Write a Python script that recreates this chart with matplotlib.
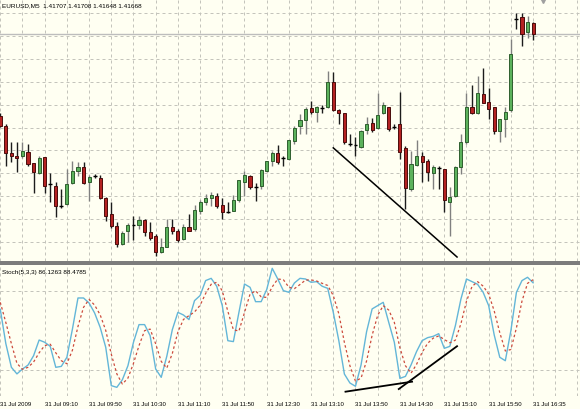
#!/usr/bin/env python3
"""EURUSD M5 candles with Stoch(5,3,3) subwindow, MT4 style."""
import matplotlib
matplotlib.use("Agg")
import matplotlib.pyplot as plt
import numpy as np
from matplotlib.patches import Rectangle

# --- data -----------------------------------------------------------------
OPEN = [1.41381, 1.41346, 1.41251, 1.41241, 1.41241, 1.41255, 1.41216, 1.41181, 1.41237, 1.41143,
        1.41136, 1.41066, 1.41073, 1.41146, 1.41188, 1.41202, 1.41150, 1.41171, 1.41164, 1.41094,
        1.41038, 1.40996, 1.40933, 1.40978, 1.40999, 1.40999, 1.41017, 1.40975, 1.40961, 1.40905,
        1.40922, 1.40992, 1.40978, 1.40950, 1.40992, 1.40985, 1.41048, 1.41080, 1.41094, 1.41101,
        1.41069, 1.41045, 1.41048, 1.41087, 1.41150, 1.41171, 1.41132, 1.41136, 1.41188, 1.41223,
        1.41251, 1.41234, 1.41230, 1.41293, 1.41346, 1.41367, 1.41409, 1.41395, 1.41409, 1.41412,
        1.41500, 1.41402, 1.41391, 1.41283, 1.41279, 1.41272, 1.41332, 1.41356, 1.41339, 1.41391,
        1.41412, 1.41342, 1.41353, 1.41269, 1.41125, 1.41209, 1.41241, 1.41223, 1.41181, 1.41199,
        1.41195, 1.41080, 1.41101, 1.41202, 1.41290, 1.41412, 1.41391, 1.41458, 1.41430, 1.41412,
        1.41328, 1.41370, 1.41402, 1.41720, 1.41727, 1.41675, 1.41707]
HIGH = [1.41391, 1.41353, 1.41290, 1.41290, 1.41290, 1.41283, 1.41216, 1.41241, 1.41237, 1.41181,
        1.41150, 1.41125, 1.41195, 1.41223, 1.41220, 1.41220, 1.41174, 1.41178, 1.41174, 1.41097,
        1.41080, 1.41010, 1.40978, 1.41006, 1.41031, 1.41031, 1.41020, 1.41010, 1.40968, 1.40954,
        1.41020, 1.41020, 1.40985, 1.41003, 1.41038, 1.41069, 1.41087, 1.41108, 1.41115, 1.41111,
        1.41094, 1.41080, 1.41104, 1.41157, 1.41188, 1.41174, 1.41146, 1.41195, 1.41223, 1.41258,
        1.41279, 1.41241, 1.41297, 1.41346, 1.41388, 1.41412, 1.41433, 1.41416, 1.41419, 1.41538,
        1.41535, 1.41405, 1.41391, 1.41318, 1.41307, 1.41332, 1.41377, 1.41374, 1.41461, 1.41430,
        1.41412, 1.41353, 1.41465, 1.41276, 1.41258, 1.41297, 1.41255, 1.41230, 1.41209, 1.41206,
        1.41195, 1.41132, 1.41206, 1.41318, 1.41461, 1.41489, 1.41521, 1.41549, 1.41479, 1.41412,
        1.41370, 1.41412, 1.41650, 1.41741, 1.41741, 1.41731, 1.41708]
LOW = [1.41342, 1.41206, 1.41220, 1.41185, 1.41234, 1.41206, 1.41111, 1.41178, 1.41111, 1.41080,
       1.41027, 1.41059, 1.41069, 1.41143, 1.41171, 1.41143, 1.41083, 1.41164, 1.41090, 1.41013,
       1.40989, 1.40922, 1.40929, 1.40940, 1.40947, 1.40985, 1.40961, 1.40947, 1.40891, 1.40901,
       1.40922, 1.40968, 1.40940, 1.40947, 1.40978, 1.40978, 1.41038, 1.41069, 1.41066, 1.41059,
       1.41020, 1.41041, 1.41048, 1.41080, 1.41101, 1.41125, 1.41083, 1.41125, 1.41185, 1.41206,
       1.41213, 1.41206, 1.41227, 1.41283, 1.41318, 1.41318, 1.41388, 1.41360, 1.41391, 1.41409,
       1.41398, 1.41353, 1.41283, 1.41276, 1.41241, 1.41269, 1.41318, 1.41325, 1.41335, 1.41388,
       1.41328, 1.41335, 1.41230, 1.41055, 1.41118, 1.41206, 1.41150, 1.41153, 1.41125, 1.41125,
       1.41045, 1.40961, 1.41097, 1.41178, 1.41283, 1.41388, 1.41388, 1.41426, 1.41370, 1.41318,
       1.41290, 1.41307, 1.41395, 1.41685, 1.41626, 1.41654, 1.41648]
CLOSE = [1.41346, 1.41251, 1.41241, 1.41234, 1.41258, 1.41213, 1.41185, 1.41234, 1.41136, 1.41143,
         1.41066, 1.41066, 1.41143, 1.41188, 1.41202, 1.41146, 1.41167, 1.41171, 1.41094, 1.41031,
         1.40996, 1.40933, 1.40971, 1.40999, 1.40999, 1.41017, 1.40975, 1.40954, 1.40905, 1.40922,
         1.40992, 1.40978, 1.40947, 1.40992, 1.40978, 1.41052, 1.41080, 1.41094, 1.41104, 1.41066,
         1.41045, 1.41045, 1.41087, 1.41157, 1.41174, 1.41132, 1.41132, 1.41192, 1.41223, 1.41251,
         1.41220, 1.41234, 1.41297, 1.41339, 1.41367, 1.41405, 1.41395, 1.41412, 1.41409, 1.41500,
         1.41402, 1.41391, 1.41290, 1.41283, 1.41279, 1.41328, 1.41353, 1.41332, 1.41384, 1.41419,
         1.41335, 1.41342, 1.41255, 1.41129, 1.41213, 1.41241, 1.41220, 1.41185, 1.41202, 1.41199,
         1.41087, 1.41097, 1.41202, 1.41290, 1.41412, 1.41391, 1.41461, 1.41426, 1.41405, 1.41328,
         1.41370, 1.41395, 1.41598, 1.41720, 1.41668, 1.41710, 1.41668]

# Stoch(5,3,3): main (%K) and signal (%D)
STOCH_K = [66, 40, 22, 17, 20.7, 23.7, 30.8, 42.7, 41, 37.9,
           22, 22.7, 29.6, 51, 74.6, 74.6, 70.8, 63.2, 52.3, 37.2,
           8.1, 6.8, 12.6, 23.2, 41, 54.4, 54.4, 46, 20.7, 14.4,
           30.3, 50.6, 63.7, 61.7, 58.2, 72.6, 76.4, 87.8, 89.5, 83.5,
           68.8, 42.2, 41.5, 63.7, 85.2, 82.7, 71.8, 71.8, 80.9, 97.1,
           89, 80.2, 78.9, 86, 89.5, 89, 86.5, 87, 83.5, 81.9,
           63.7, 42.2, 16.9, 10.1, 7.6, 23.7, 49, 66.3, 68.8, 71.3,
           56, 41, 13.6, 15.1, 23.7, 33.9, 42.2, 44.5, 45.5, 47.5,
           36.4, 37.9, 53.6, 73.8, 89, 87, 85, 78.9, 68.8, 46.5,
           29.6, 27, 49.8, 78.9, 87.8, 90.3, 86.1263]
STOCH_D = [71.3, 56, 40, 25, 20.5, 22, 26, 33, 38.5, 39.5,
           33, 27, 24.7, 35, 53, 67.5, 73.5, 69.2, 61.8, 50,
           32, 17, 9.3, 13.8, 25, 38.5, 49.8, 51, 39.8, 26.5,
           21.4, 32.5, 48.7, 58.3, 61.2, 64, 69, 78, 85, 86.5,
           80, 64.5, 50.5, 49.5, 63.5, 77.5, 80, 75.5, 75, 83,
           89, 88.5, 82.7, 81.7, 84.8, 88.2, 88.3, 87.5, 85.7, 84.1,
           76.4, 62.6, 40.9, 23.1, 11.5, 13.8, 26.8, 46.3, 61.4, 68.8,
           65.4, 56.1, 36.9, 23.2, 17.5, 24.2, 33.3, 40.2, 44.1, 45.8,
           43.1, 40.6, 42.6, 55.1, 72.1, 83.3, 87, 83.6, 77.6, 64.7,
           48.3, 34.4, 35.5, 51.9, 72.2, 85.7, 88.4785]

TIME_LABELS = ["31 Jul 2009", "31 Jul 09:10", "31 Jul 09:50", "31 Jul 10:30",
               "31 Jul 11:10", "31 Jul 11:50", "31 Jul 12:30", "31 Jul 13:10",
               "31 Jul 13:50", "31 Jul 14:30", "31 Jul 15:10", "31 Jul 15:50",
               "31 Jul 16:35"]
LABEL_BARS = [0, 8, 16, 24, 32, 40, 48, 56, 64, 72, 80, 88, 96]
PRICE_GRID = [1.4174, 1.4166, 1.4158, 1.4150, 1.4142, 1.4134, 1.4126,
              1.4118, 1.4110, 1.4102, 1.4094]
STOCH_LEVELS = [20, 80]
BID = 1.41668

# hand-drawn trendlines (bar index, value)
PRICE_LINE = ([60.0, 82.3], [1.41269, 1.40887])
STOCH_LINES = [([62.2, 74.2], [3.5, 11.1]), ([71.8, 82.3], [5.5, 38.0])]

HEADER = "EURUSD,M5  1.41707 1.41708 1.41648 1.41668"
STOCH_HEADER = "Stoch(5,3,3) 86.1263 88.4785"

# --- style ---------------------------------------------------------------
BG = "#fffff2"
GRID = "#c4c4bc"
BULL, BULL_EDGE = "#5cb25c", "#2f5f2f"
BEAR, BEAR_EDGE = "#b42222", "#4a0c0c"
BULL_WICK, BEAR_WICK = "#808080", "#1c1c1c"
FONT = "Liberation Sans"

W, H = 580, 410
XMAX = 580 / 5.55  # bars visible across the window


def fy(y):
    return 1 - y / H


fig = plt.figure(figsize=(W / 100, H / 100), dpi=100, facecolor=BG)

# main price window
ax = fig.add_axes([0, fy(262), 1, 262 / H], facecolor=BG)
ax.set_xlim(-0.05, XMAX - 0.05)
ax.set_ylim(1.40873, 1.41790)
ax.set_xticks(np.arange(0, 105, 4))
ax.set_yticks(PRICE_GRID)
ax.grid(True, color=GRID, ls=(0, (3, 3)), lw=0.72)
ax.tick_params(length=0, labelbottom=False, labelleft=False)
for s in ax.spines.values():
    s.set_visible(False)
ax.set_axisbelow(True)

ax.axhline(BID, color="#bdbdbd", lw=1.0, zorder=1)

x = np.arange(len(OPEN))
o, h, l, c = map(np.array, (OPEN, HIGH, LOW, CLOSE))
doji = np.abs(c - o) < 0.00002
up = (c > o) & ~doji
dn = (c < o) & ~doji

ax.vlines(x[up], l[up], h[up], color=BULL_WICK, lw=1.0, zorder=2)
ax.vlines(x[dn], l[dn], h[dn], color=BEAR_WICK, lw=1.0, zorder=2)
ax.vlines(x[doji], l[doji], h[doji], color=BEAR_WICK, lw=1.0, zorder=2)
ax.bar(x[up], c[up] - o[up], bottom=o[up], width=0.56, color=BULL,
       edgecolor=BULL_EDGE, lw=0.7, zorder=3)
ax.bar(x[dn], c[dn] - o[dn], bottom=o[dn], width=0.56, color=BEAR,
       edgecolor=BEAR_EDGE, lw=0.7, zorder=3)
ax.hlines(o[doji], x[doji] - 0.35, x[doji] + 0.35, color="black", lw=1.0, zorder=3)

ax.plot(*PRICE_LINE, color="black", lw=1.1, zorder=4)
# chart shift marker
ax.plot([97.8], [1.41785], marker="v", ms=4, color="#a0a0a0", clip_on=False, zorder=5)

fig.text(2 / W, fy(6), HEADER, fontsize=4.6, family=FONT, va="center", ha="left")

# separator between windows
fig.add_artist(Rectangle((0, fy(265.5)), 1, 3.5 / H, transform=fig.transFigure,
                         color="#7c7c7c", lw=0))

# stochastic window
ax2 = fig.add_axes([0, fy(397.3), 1, (397.3 - 265.5) / H], facecolor=BG)
ax2.set_xlim(-0.05, XMAX - 0.05)
ax2.set_ylim(0, 100)
ax2.set_yticks(STOCH_LEVELS)
ax2.set_xticks(LABEL_BARS, TIME_LABELS)
ax2.set_xticks(np.arange(0, 105, 4), minor=True)
ax2.grid(True, which="both", color=GRID, ls=(0, (3, 3)), lw=0.72)
ax2.tick_params(which="both", length=0, labelleft=False, pad=3.5)
ax2.tick_params(axis="x", labelsize=4.3)
for t in ax2.get_xticklabels():
    t.set_ha("left")
    t.set_family(FONT)
for s in ax2.spines.values():
    s.set_visible(False)
ax2.set_axisbelow(True)

ax2.plot(x, STOCH_K, color="#63b6d8", lw=1.0, zorder=3)
ax2.plot(x, STOCH_D, color="#cc4a3c", lw=0.9, ls=(0, (2, 2)), zorder=3)
for lx, ly in STOCH_LINES:
    ax2.plot(lx, ly, color="black", lw=1.3, zorder=4)

fig.text(2 / W, fy(272.5), STOCH_HEADER, fontsize=4.6, family=FONT, va="center", ha="left")

fig.savefig("out.png", dpi=100, facecolor=BG)
